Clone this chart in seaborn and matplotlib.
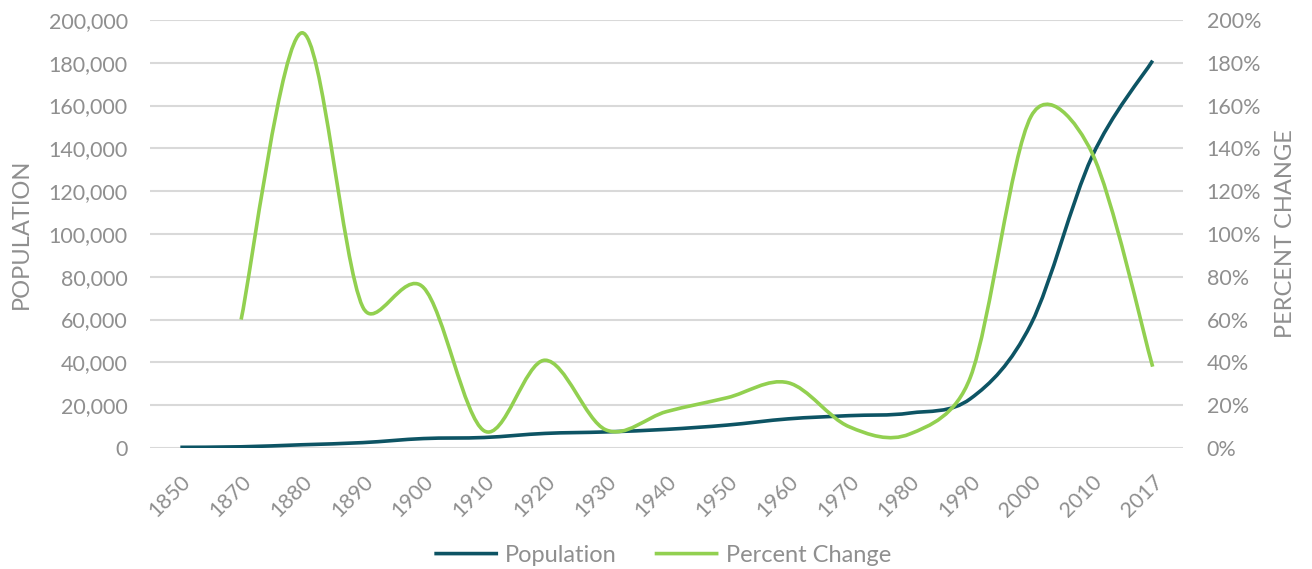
import numpy as np
import matplotlib
matplotlib.use("Agg")
import matplotlib.pyplot as plt
import seaborn as sns
from matplotlib.path import Path
from matplotlib.transforms import Affine2D
from matplotlib.patheffects import AbstractPathEffect
from matplotlib.ticker import FuncFormatter, PercentFormatter

years = ['1850', '1870', '1880', '1890', '1900', '1910', '1920', '1930', '1940',
         '1950', '1960', '1970', '1980', '1990', '2000', '2010', '2017']
population = [300, 550, 1500, 2500, 4400, 4900, 6800, 7500, 8700,
              10700, 13600, 15100, 16300, 23000, 58000, 136000, 181000]
# percent change starts at 1870
pct_years = years[1:]
pct_change = [60, 194, 66, 75, 8, 41, 8.5, 17,
              23.5, 30.5, 10, 6.5, 33, 155, 138, 38]

TEAL = "#0d5464"
GREEN = "#92d050"
GREY = "#8f8f8f"
GRID = "#d9d9d9"


class SmoothLine(AbstractPathEffect):
    """Redraw a polyline as a spreadsheet-style smoothed curve (bezier, tangents capped)."""
    def draw_path(self, renderer, gc, tpath, affine, rgbFace=None):
        p = affine.transform(tpath.vertices)
        ext = np.vstack([p[0], p, p[-1]])
        verts = [p[0]]
        codes = [Path.MOVETO]
        for i in range(len(p) - 1):
            a, b, c, d = ext[i], ext[i + 1], ext[i + 2], ext[i + 3]
            d12 = np.hypot(*(c - b))
            d02 = np.hypot(*(c - a))
            d13 = np.hypot(*(d - b))
            f0 = 1 / 6 if d02 / 6 < d12 / 2 else d12 / (2 * d02)
            f1 = 1 / 6 if d13 / 6 < d12 / 2 else d12 / (2 * d13)
            verts += [b + (c - a) * f0, c - (d - b) * f1, c]
            codes += [Path.CURVE4] * 3
        renderer.draw_path(gc, Path(np.array(verts), codes), Affine2D(), rgbFace)


sns.set_theme(style="white")
plt.rcParams['font.family'] = ['Lato', 'DejaVu Sans']

fig = plt.figure(figsize=(13.12, 5.69), dpi=100)
ax = fig.add_axes([0.1143, 0.2127, 0.9017 - 0.1143, 0.9649 - 0.2127])
ax2 = ax.twinx()

xpos = np.arange(len(years))
sns.lineplot(x=xpos, y=population, ax=ax, color=TEAL, linewidth=2.6,
             label="Population")
sns.lineplot(x=xpos[1:], y=pct_change, ax=ax2, color=GREEN, linewidth=2.6,
             label="Percent Change")
for line in ax.get_lines() + ax2.get_lines():
    line.set_path_effects([SmoothLine()])
    line.set_solid_capstyle('butt')

ax.set_xlim(-0.5, len(years) - 0.5)
ax.set_ylim(0, 200000)
ax.set_yticks(np.arange(0, 200001, 20000))
ax.yaxis.set_major_formatter(FuncFormatter(lambda v, _: f"{int(v):,}"))
ax2.set_ylim(0, 200)
ax2.set_yticks(np.arange(0, 201, 20))
ax2.yaxis.set_major_formatter(PercentFormatter(xmax=100, decimals=0))

ax.set_xticks(xpos)
ax.set_xticklabels(years, rotation=45, ha='right', rotation_mode='anchor')

ax.grid(axis='y', color=GRID, linewidth=1.5)
ax.set_axisbelow(True)
for a in (ax, ax2):
    sns.despine(ax=a, left=True, right=True, bottom=True, top=True)
    a.tick_params(length=0, labelsize=15.5, colors=GREY)
ax.tick_params(axis='y', pad=16)
ax.tick_params(axis='x', pad=17)
ax2.tick_params(axis='y', pad=17)

ax.set_ylabel("POPULATION", fontsize=17, color=GREY, labelpad=12)
ax2.set_ylabel("PERCENT CHANGE", fontsize=17, color=GREY, labelpad=10)
ax.set_xlabel("")

h1, l1 = ax.get_legend_handles_labels()
h2, l2 = ax2.get_legend_handles_labels()
for a in (ax, ax2):
    if a.get_legend() is not None:
        a.get_legend().remove()
leg = fig.legend(h1 + h2, l1 + l2, loc='center', bbox_to_anchor=(0.505, 0.024),
                 ncol=2, frameon=False, fontsize=17, handlelength=2.7,
                 handletextpad=0.3, columnspacing=1.6)
for t in leg.get_texts():
    t.set_color(GREY)

fig.savefig("out.png", dpi=100)
